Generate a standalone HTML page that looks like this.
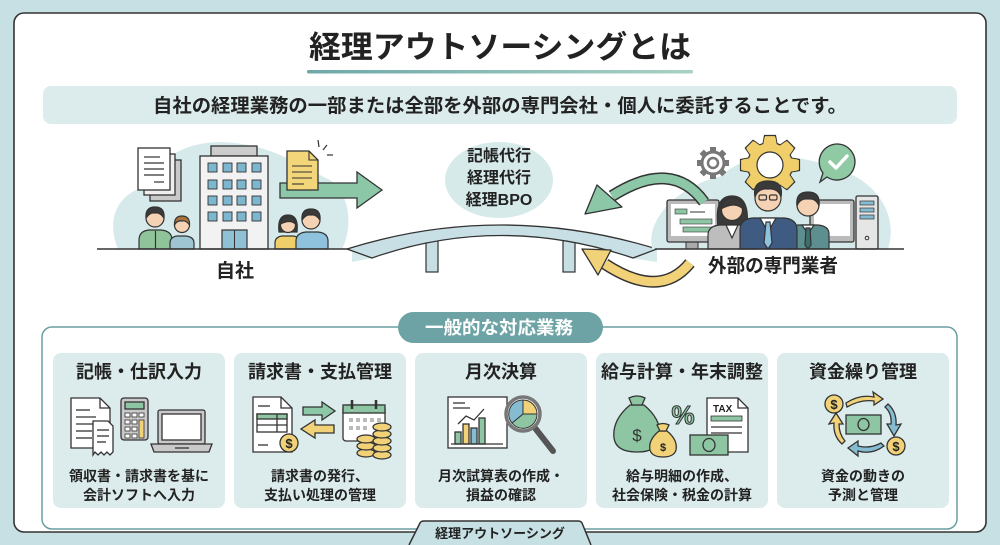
<!DOCTYPE html>
<html><head><meta charset="utf-8"><style>
html,body{margin:0;padding:0;background:#c7e0e3;}
svg{display:block}
.t{font-family:"Liberation Sans","Noto Sans CJK JP",sans-serif;font-weight:700;fill:#222;}
</style></head><body>
<svg width="1000" height="545" viewBox="0 0 1000 545" xmlns="http://www.w3.org/2000/svg">
<defs>
<linearGradient id="ul" x1="0" x2="1"><stop offset="0" stop-color="#6fa8aa"/><stop offset="1" stop-color="#a9d1c4"/></linearGradient>
<polygon id="tooth" points="21,-7 29.5,-5.5 29.5,5.5 21,7"/>
</defs>
<rect width="1000" height="545" fill="#c7e0e3"/>
<rect x="14" y="13" width="972" height="519" rx="10" fill="#fff" stroke="#333" stroke-width="1.6"/>

<!-- title -->
<text class="t" x="500" y="58" text-anchor="middle" font-size="31" textLength="382" lengthAdjust="spacingAndGlyphs">経理アウトソーシングとは</text>
<rect x="307" y="70" width="386" height="3.5" rx="1.5" fill="url(#ul)"/>
<rect x="43" y="86" width="914" height="38" rx="8" fill="#dcecec"/>
<text class="t" x="500" y="112" text-anchor="middle" font-size="19" textLength="694" lengthAdjust="spacingAndGlyphs">自社の経理業務の一部または全部を外部の専門会社・個人に委託することです。</text>

<!-- left blob -->
<path d="M118,249 C104,215 122,190 150,186 C160,150 200,137 242,144 C280,150 300,166 330,180 C352,196 352,230 342,249 Z" fill="#d6eaeb"/>
<!-- docs stack -->
<rect x="150" y="160" width="31" height="41" fill="#c9c9c9" stroke="#333" stroke-width="1.3"/>
<rect x="144" y="154" width="31" height="41" fill="#eee" stroke="#333" stroke-width="1.3"/>
<rect x="138" y="148" width="32" height="42" fill="#fff" stroke="#333" stroke-width="1.3"/>
<g stroke="#333" stroke-width="1.2"><line x1="144" y1="157" x2="160" y2="157"/><line x1="144" y1="163" x2="164" y2="163"/><line x1="144" y1="169" x2="164" y2="169"/><line x1="144" y1="175" x2="164" y2="175"/><line x1="154" y1="182" x2="164" y2="182"/></g>
<!-- building -->
<rect x="211" y="146" width="46" height="10" fill="#ccc" stroke="#333" stroke-width="1.3"/>
<rect x="200" y="156" width="68" height="93" fill="#f2f2f2" stroke="#333" stroke-width="1.3"/>
<g fill="#7fb6cf" stroke="#333" stroke-width="0.9">
<rect x="208" y="163" width="9" height="9"/><rect x="223" y="163" width="9" height="9"/><rect x="237" y="163" width="9" height="9"/><rect x="252" y="163" width="9" height="9"/>
<rect x="208" y="180" width="9" height="9"/><rect x="223" y="180" width="9" height="9"/><rect x="237" y="180" width="9" height="9"/><rect x="252" y="180" width="9" height="9"/>
<rect x="208" y="196" width="9" height="9"/><rect x="223" y="196" width="9" height="9"/><rect x="237" y="196" width="9" height="9"/><rect x="252" y="196" width="9" height="9"/>
<rect x="208" y="212" width="9" height="9"/><rect x="223" y="212" width="9" height="9"/><rect x="237" y="212" width="9" height="9"/><rect x="252" y="212" width="9" height="9"/>
</g>
<rect x="222" y="230" width="25" height="19" fill="#8fc0d3" stroke="#333" stroke-width="1.2"/>
<line x1="234.5" y1="230" x2="234.5" y2="249" stroke="#333" stroke-width="1"/>
<!-- people left -->
<g stroke="#333" stroke-width="1.2">
<path d="M139,249 V240 Q139,231 149,230 H161 Q172,231 172,240 V249 Z" fill="#8fc49a"/>
<line x1="155.5" y1="231" x2="155.5" y2="249"/>
<circle cx="155" cy="218" r="9" fill="#f6d2b5"/>
<path d="M146,218 Q145,207 155,207 Q165,207 164,218 Q160,212 155,213 Q150,212 146,218 Z" fill="#3a3a3a"/>
<path d="M170,249 V243 Q170,237 177,236 H186 Q194,237 194,243 V249 Z" fill="#9fc5d3"/>
<circle cx="182" cy="225" r="7.5" fill="#f6d2b5"/>
<path d="M174.5,225 Q174,216 182,216 Q190,216 189.5,225 Q186,220 182,221 Q177,220 174.5,225 Z" fill="#a8733c"/>
<path d="M275,249 V243 Q275,237 282,236 H293 Q301,237 301,243 V249 Z" fill="#f0cf6a"/>
<path d="M279,232 Q277,215 288,215 Q299,215 297,232 Z" fill="#3a3a3a"/>
<circle cx="288" cy="225" r="7.5" fill="#f6d2b5"/>
<path d="M280.5,224 Q281,217 288,217 Q295,217 295.5,224 Q290,219 280.5,224 Z" fill="#3a3a3a"/>
<path d="M296,249 V241 Q296,233 306,232 H318 Q328,233 328,241 V249 Z" fill="#8fc3dd"/>
<circle cx="311" cy="220" r="9" fill="#f6d2b5"/>
<path d="M302,220 Q301,209 311,209 Q321,209 320,220 Q316,214 311,215 Q306,214 302,220 Z" fill="#3a3a3a"/>
</g>
<!-- green arrow left -->
<path d="M280,183 H357 V172 L382,190 L357,208 V198 H280 Z" fill="#8cc7a8" stroke="#333" stroke-width="1.3"/>
<!-- yellow doc -->
<path d="M287,151 H309 L318,160 V190 H287 Z" fill="#f3d57a" stroke="#333" stroke-width="1.3"/>
<path d="M309,151 V160 H318" fill="none" stroke="#333" stroke-width="1.1"/>
<g stroke="#333" stroke-width="1.1"><line x1="292" y1="166" x2="312" y2="166"/><line x1="292" y1="172" x2="312" y2="172"/><line x1="292" y1="178" x2="312" y2="178"/><line x1="292" y1="184" x2="304" y2="184"/></g>
<g stroke="#333" stroke-width="1.2"><line x1="318" y1="140" x2="319" y2="147"/><line x1="327" y1="145" x2="323" y2="150"/><line x1="333" y1="155" x2="327" y2="155"/></g>
<line x1="97" y1="249" x2="352" y2="249" stroke="#333" stroke-width="1.5"/>
<text class="t" x="235" y="277" text-anchor="middle" font-size="19">自社</text>

<!-- center bridge -->
<path d="M352,249 L372,258 L352,262 Z" fill="#d6eaeb"/>
<path d="M630,258 L657,249 L657,262 Z" fill="#d6eaeb"/>
<rect x="426" y="233" width="12" height="39" fill="#c7dfe3" stroke="#333" stroke-width="1.2"/>
<rect x="563" y="233" width="12" height="39" fill="#c7dfe3" stroke="#333" stroke-width="1.2"/>
<path d="M347,249 Q500,201 657,249 L633,258 Q500,213 372,258 Z" fill="#c8e0e5" stroke="#333" stroke-width="1.3"/>
<ellipse cx="499" cy="180" rx="54" ry="38" fill="#d6eaea"/>
<text class="t" x="499" y="161" text-anchor="middle" font-size="16">記帳代行</text>
<text class="t" x="499" y="183" text-anchor="middle" font-size="16">経理代行</text>
<text class="t" x="499" y="205" text-anchor="middle" font-size="16">経理BPO</text>

<!-- right blob -->
<path d="M652,249 C645,212 690,182 722,176 C742,152 800,152 832,168 C872,176 900,212 888,249 Z" fill="#d6eaeb"/>
<!-- gray gear -->
<g transform="translate(713,163)">
<g fill="#777"><rect x="-3" y="-16" width="6" height="6"/><rect x="-3" y="10" width="6" height="6"/><rect x="-16" y="-3" width="6" height="6"/><rect x="10" y="-3" width="6" height="6"/>
<rect x="-3" y="-16" width="6" height="6" transform="rotate(45)"/><rect x="-3" y="10" width="6" height="6" transform="rotate(45)"/><rect x="-16" y="-3" width="6" height="6" transform="rotate(45)"/><rect x="10" y="-3" width="6" height="6" transform="rotate(45)"/></g>
<circle r="11" fill="#fff" stroke="#777" stroke-width="3"/>
<circle r="5" fill="#fff" stroke="#777" stroke-width="2.5"/>
</g>
<!-- yellow gear -->
<g transform="translate(770,165)">
<g fill="#f0cf6a" stroke="#333" stroke-width="1.2" stroke-linejoin="round">
<use href="#tooth"/><use href="#tooth" transform="rotate(45)"/><use href="#tooth" transform="rotate(90)"/><use href="#tooth" transform="rotate(135)"/>
<use href="#tooth" transform="rotate(180)"/><use href="#tooth" transform="rotate(225)"/><use href="#tooth" transform="rotate(270)"/><use href="#tooth" transform="rotate(315)"/>
</g>
<circle r="22.5" fill="#f0cf6a" stroke="#333" stroke-width="1.2"/>
<g fill="#f0cf6a">
<use href="#tooth" transform="translate(-2,0)"/><use href="#tooth" transform="rotate(45) translate(-2,0)"/><use href="#tooth" transform="rotate(90) translate(-2,0)"/><use href="#tooth" transform="rotate(135) translate(-2,0)"/>
<use href="#tooth" transform="rotate(180) translate(-2,0)"/><use href="#tooth" transform="rotate(225) translate(-2,0)"/><use href="#tooth" transform="rotate(270) translate(-2,0)"/><use href="#tooth" transform="rotate(315) translate(-2,0)"/>
</g>
<circle r="13" fill="#fff" stroke="#333" stroke-width="1.2"/>
</g>
<!-- speech bubble -->
<path d="M838,144 A18,18 0 1 1 827,177 L820,182 L823,173 A18,18 0 0 1 838,144 Z" fill="#8fcaa5" stroke="#333" stroke-width="1.3"/>
<path d="M830,162 L836,168 L847,156" fill="none" stroke="#fff" stroke-width="3.5" stroke-linecap="round" stroke-linejoin="round"/>
<!-- monitors -->
<rect x="686" y="241" width="12" height="8" fill="#aaa" stroke="#333" stroke-width="1"/>
<rect x="667" y="200" width="52" height="42" rx="2" fill="#bbb" stroke="#333" stroke-width="1.3"/>
<rect x="671" y="204" width="44" height="32" fill="#fff"/>
<rect x="675" y="209" width="12" height="5" fill="#8ec6a4" stroke="#333" stroke-width="0.6"/>
<line x1="690" y1="212" x2="705" y2="212" stroke="#333" stroke-width="1"/>
<rect x="680" y="219" width="32" height="5" fill="#8ec6a4" stroke="#333" stroke-width="0.6"/>
<rect x="683" y="227" width="30" height="5" fill="#8ec6a4" stroke="#333" stroke-width="0.6"/>
<rect x="810" y="200" width="44" height="42" rx="2" fill="#bbb" stroke="#333" stroke-width="1.3"/>
<rect x="814" y="204" width="36" height="32" fill="#fff"/>
<rect x="856" y="196" width="22" height="53" rx="1.5" fill="#e6e6e6" stroke="#333" stroke-width="1.3"/>
<g fill="#86bcd2" stroke="#333" stroke-width="0.7"><rect x="860" y="201" width="14" height="4"/><rect x="860" y="208" width="14" height="4"/><rect x="860" y="215" width="14" height="4"/></g>
<circle cx="867" cy="238" r="1.8" fill="none" stroke="#333" stroke-width="1"/>
<!-- people right -->
<g stroke="#333" stroke-width="1.2">
<path d="M718,227 Q714,196 732,196 Q750,196 747,227 Z" fill="#3a3a3a"/>
<path d="M708,249 V235 Q708,226 720,225 H744 Q756,226 756,235 V249 Z" fill="#bdbdbd"/>
<path d="M726,225 L732,238 L738,225 Z" fill="#fff"/>
<circle cx="732" cy="210" r="10.5" fill="#f6d2b5"/>
<path d="M721,209 Q722,198 732,198 Q743,198 743,209 Q735,201 721,209 Z" fill="#3a3a3a"/>
<path d="M788,249 V234 Q788,226 798,225 H818 Q829,226 829,234 V249 Z" fill="#5e8f90"/>
<path d="M802,225 L808,234 L814,225 Z" fill="#fff"/>
<path d="M806,228 L810,228 L811,245 L808,249 L805,245 Z" fill="#3f7070"/>
<circle cx="808" cy="205" r="11" fill="#f6d2b5"/>
<path d="M797,206 Q795,192 808,192 Q821,192 819,206 Q816,198 808,199 Q800,198 797,206 Z" fill="#3a3a3a"/>
<path d="M740,249 V230 Q740,219 753,218 H784 Q797,219 797,230 V249 Z" fill="#3f5b82"/>
<path d="M760,218 L768,232 L776,218 Z" fill="#fff"/>
<path d="M766,222 L770,222 L772,243 L768,249 L764,243 Z" fill="#8fc3dd"/>
<circle cx="768" cy="198" r="13" fill="#f6d2b5"/>
<path d="M755,197 Q752,181 768,181 Q784,181 781,197 Q778,188 768,189 Q758,188 755,197 Z" fill="#3a3a3a"/>
<rect x="759" y="195" width="7.5" height="5" rx="1.5" fill="none"/><rect x="769.5" y="195" width="7.5" height="5" rx="1.5" fill="none"/>
</g>
<line x1="655" y1="249" x2="904" y2="249" stroke="#333" stroke-width="1.5"/>
<!-- curved green arrow -->
<path d="M704,202 Q672,158 612,196" fill="none" stroke="#333" stroke-width="12"/>
<path d="M704,202 Q672,158 612,196" fill="none" stroke="#8cc7a8" stroke-width="9"/>
<path d="M585,214 L597,185 L622,207 Z" fill="#8cc7a8" stroke="#333" stroke-width="1.3" stroke-linejoin="round"/>
<!-- curved yellow arrow -->
<path d="M690,263 Q660,300 605,264" fill="none" stroke="#333" stroke-width="12"/>
<path d="M690,263 Q660,300 605,264" fill="none" stroke="#f2d278" stroke-width="9"/>
<path d="M582,249 L611,250 L598,275 Z" fill="#f2d278" stroke="#333" stroke-width="1.3" stroke-linejoin="round"/>
<text class="t" x="773" y="272" text-anchor="middle" font-size="19" textLength="130" lengthAdjust="spacingAndGlyphs">外部の専門業者</text>

<!-- services box -->
<rect x="42" y="327" width="915" height="202" rx="10" fill="none" stroke="#6a9fa2" stroke-width="1.5"/>
<rect x="398" y="312" width="205" height="31" rx="15.5" fill="#6da3a4"/>
<text x="499" y="334" text-anchor="middle" font-size="18" class="t" style="fill:#fff" textLength="148" lengthAdjust="spacingAndGlyphs">一般的な対応業務</text>

<g fill="#dcecec">
<rect x="53" y="353" width="172" height="155" rx="8"/>
<rect x="234" y="353" width="172" height="155" rx="8"/>
<rect x="415" y="353" width="172" height="155" rx="8"/>
<rect x="596" y="353" width="172" height="155" rx="8"/>
<rect x="777" y="353" width="172" height="155" rx="8"/>
</g>
<g class="t" font-size="18" text-anchor="middle">
<text x="139" y="378">記帳・仕訳入力</text>
<text x="320" y="378">請求書・支払管理</text>
<text x="501" y="378">月次決算</text>
<text x="682" y="378">給与計算・年末調整</text>
<text x="863" y="378">資金繰り管理</text>
</g>
<g class="t" font-size="14" text-anchor="middle">
<text x="139" y="481">領収書・請求書を基に</text>
<text x="139" y="500">会計ソフトへ入力</text>
<text x="320" y="481">請求書の発行、</text>
<text x="320" y="500">支払い処理の管理</text>
<text x="501" y="481">月次試算表の作成・</text>
<text x="501" y="500">損益の確認</text>
<text x="682" y="481">給与明細の作成、</text>
<text x="682" y="500">社会保険・税金の計算</text>
<text x="863" y="481">資金の動きの</text>
<text x="863" y="500">予測と管理</text>
</g>

<!-- card1 icons -->
<g stroke="#333" stroke-width="1.3">
<path d="M71,398 H100 L110,408 V448 H71 Z" fill="#fff"/>
<path d="M100,398 V408 H110" fill="none"/>
<line x1="76" y1="410" x2="90" y2="410"/><line x1="76" y1="417" x2="96" y2="417"/><line x1="76" y1="424" x2="96" y2="424"/><line x1="76" y1="431" x2="92" y2="431"/><line x1="76" y1="438" x2="92" y2="438"/>
<path d="M93,421 H108 L113,426 V452 L110,455 L107,452 L104,455 L101,452 L98,455 L95,452 L93,455 Z" fill="#fff"/>
<line x1="97" y1="430" x2="109" y2="430"/><line x1="97" y1="436" x2="109" y2="436"/><line x1="97" y1="442" x2="106" y2="442"/>
<rect x="121" y="398" width="27" height="42" rx="3" fill="#c9c9c9"/>
<rect x="125" y="402" width="19" height="7" fill="#8ec6a4"/>
<g fill="#fff" stroke-width="0.8"><rect x="125" y="413" width="5" height="4"/><rect x="132" y="413" width="5" height="4"/><rect x="139" y="413" width="5" height="4"/><rect x="125" y="420" width="5" height="4"/><rect x="132" y="420" width="5" height="4"/><rect x="125" y="427" width="5" height="4"/><rect x="132" y="427" width="5" height="4"/><rect x="125" y="434" width="5" height="4"/><rect x="132" y="434" width="5" height="4"/></g>
<rect x="139" y="420" width="5" height="18" fill="#f2d278" stroke-width="0.8"/>
<rect x="158" y="410" width="47" height="34" rx="2" fill="#c9c9c9"/>
<rect x="162" y="414" width="39" height="26" fill="#fff"/>
<path d="M151,444 H212 L209,452 H154 Z" fill="#c9c9c9"/>
<line x1="175" y1="448" x2="189" y2="448"/>
</g>
<!-- card2 icons -->
<g stroke="#333" stroke-width="1.3">
<path d="M253,397 H281 L292,408 V452 H253 Z" fill="#fff"/>
<path d="M281,397 V408 H292" fill="none"/>
<line x1="258" y1="406" x2="270" y2="406"/><line x1="258" y1="445" x2="268" y2="445"/>
<rect x="257" y="414" width="30" height="18" fill="#fff"/>
<rect x="257" y="414" width="30" height="5" fill="#8ec6a4"/>
<line x1="257" y1="425" x2="287" y2="425"/><line x1="277" y1="414" x2="277" y2="432"/>
<circle cx="289" cy="443" r="9" fill="#f2d278"/>
<path d="M303,407 H322 V402 L335,411 L322,420 V415 H303 Z" fill="#8cc7a8"/>
<path d="M334,425 H315 V420 L301,429 L315,438 V433 H334 Z" fill="#f2d278"/>
<rect x="343" y="405" width="42" height="36" rx="3" fill="#fff"/>
<rect x="343" y="405" width="42" height="8" fill="#8ec6a4"/>
<line x1="352" y1="400" x2="352" y2="409" stroke-width="2.5"/><line x1="376" y1="400" x2="376" y2="409" stroke-width="2.5"/>
<g fill="#bbb" stroke="none"><rect x="349" y="418" width="4" height="4"/><rect x="356" y="418" width="4" height="4"/><rect x="363" y="418" width="4" height="4"/><rect x="370" y="418" width="4" height="4"/><rect x="377" y="418" width="4" height="4"/><rect x="349" y="426" width="4" height="4"/><rect x="356" y="426" width="4" height="4"/><rect x="363" y="426" width="4" height="4"/></g>
<g fill="#f2d278"><ellipse cx="366" cy="453" rx="9" ry="4"/><ellipse cx="366" cy="446" rx="9" ry="4"/><ellipse cx="366" cy="439" rx="9" ry="4"/>
<ellipse cx="382" cy="455" rx="9" ry="4"/><ellipse cx="382" cy="448" rx="9" ry="4"/><ellipse cx="382" cy="441" rx="9" ry="4"/><ellipse cx="382" cy="434" rx="9" ry="4"/><ellipse cx="382" cy="427" rx="9" ry="4"/></g>
</g>
<text x="289" y="448" text-anchor="middle" font-size="13" class="t">$</text>
<!-- card3 icons -->
<g stroke="#333" stroke-width="1.3">
<rect x="448" y="397" width="59" height="51" fill="#fff"/>
<line x1="453" y1="403" x2="465" y2="403"/><line x1="453" y1="408" x2="470" y2="408"/>
<rect x="455" y="432" width="6" height="12" fill="#8ec6a4"/>
<rect x="463" y="424" width="6" height="20" fill="#f2d278"/>
<rect x="471" y="428" width="6" height="16" fill="#86bcd2"/>
<rect x="479" y="418" width="6" height="26" fill="#8ec6a4"/>
<line x1="451" y1="444" x2="503" y2="444"/>
<polyline points="458,424 466,416 474,420 484,409" fill="none"/>
<line x1="535" y1="428" x2="553" y2="451" stroke="#555" stroke-width="6" stroke-linecap="round"/>
<circle cx="523" cy="414" r="17" fill="#fff" stroke="#777" stroke-width="3.5"/>
<path d="M523,414 L523,400 A14,14 0 0 1 537,414 Z" fill="#f2d278" stroke-width="1"/>
<path d="M523,414 L537,414 A14,14 0 0 1 512,423 Z" fill="#8ec6a4" stroke-width="1"/>
<path d="M523,414 L512,423 A14,14 0 0 1 523,400 Z" fill="#86bcd2" stroke-width="1"/>
</g>
<!-- card4 icons -->
<g stroke="#333" stroke-width="1.3">
<path d="M630,405 Q612,420 614,438 Q616,452 637,452 Q658,452 660,438 Q662,420 644,405 Z" fill="#8ec6a4"/>
<path d="M629,398 L632,405 H642 L645,398 Q637,394 629,398 Z" fill="#8ec6a4"/>
<path d="M659,431 Q648,440 650,450 Q652,457 663,457 Q674,457 676,450 Q678,440 667,431 Z" fill="#f2d278"/>
<path d="M657,425 L660,431 H666 L669,425 Q663,422 657,425 Z" fill="#f2d278"/>
<path d="M707,398 H738 L748,408 V452 H707 Z" fill="#fff"/>
<path d="M738,398 V408 H748" fill="none"/>
<rect x="711" y="416" width="31" height="5" fill="#8ec6a4" stroke-width="0.8"/>
<line x1="711" y1="427" x2="742" y2="427"/><line x1="711" y1="433" x2="742" y2="433"/>
<rect x="690" y="435" width="38" height="20" fill="#8ec6a4"/>
<ellipse cx="709" cy="445" rx="6" ry="6.5" fill="none"/>
</g>
<text x="637" y="441" text-anchor="middle" font-size="17" style="fill:#333;font-family:'Liberation Sans',sans-serif">$</text>
<text x="663" y="451" text-anchor="middle" font-size="11" class="t">$</text>
<text x="683" y="424" text-anchor="middle" font-size="26" style="fill:#8ec6a4;stroke:#333;stroke-width:1;font-family:'Liberation Sans',sans-serif;font-weight:700">%</text>
<text x="713" y="412" font-size="10" class="t">TAX</text>
<!-- card5 icons -->
<g stroke="#333" stroke-width="1.3">
<rect x="846" y="415" width="35" height="19" fill="#8ec6a4"/>
<ellipse cx="863.5" cy="424.5" rx="5.5" ry="6" fill="none"/>
<circle cx="834" cy="404" r="9" fill="#f2d278"/>
<circle cx="896" cy="446" r="9" fill="#f2d278"/>
<path d="M846,403 Q860,394 874,397 L873,392 L883,399 L874,405 L874,401 Q861,399 847,407 Z" fill="#f2d278"/>
<path d="M888,404 Q897,412 896,425 L901,424 L894,436 L887,424 L891,424 Q892,413 885,407 Z" fill="#86bcd2"/>
<path d="M884,446 Q872,455 858,451 L858,456 L848,448 L858,441 L858,446 Q870,449 881,443 Z" fill="#86bcd2"/>
<path d="M842,444 Q833,436 834,423 L829,424 L836,413 L843,424 L839,424 Q839,434 845,441 Z" fill="#f2d278"/>
</g>
<text x="834" y="409" text-anchor="middle" font-size="13" class="t">$</text>
<text x="896" y="451" text-anchor="middle" font-size="13" class="t">$</text>

<!-- bottom tab -->
<path d="M409,545 L420,523 Q421,521 424,521 H578 Q581,521 582,523 L591,545 Z" fill="#c7e0e3"/>
<path d="M409,545 L420,523 Q421,521 424,521 H578 Q581,521 582,523 L591,545" fill="none" stroke="#333" stroke-width="1.5"/>
<text x="500" y="538" text-anchor="middle" font-size="13" class="t">経理アウトソーシング</text>
</svg>
</body></html>
